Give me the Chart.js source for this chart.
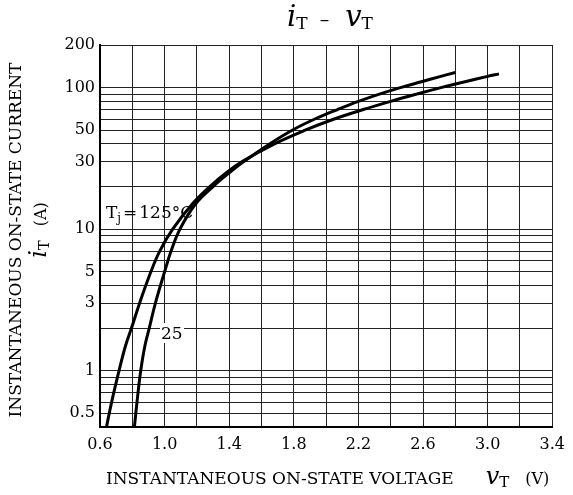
<!DOCTYPE html>
<html>
<head>
<meta charset="utf-8">
<script src="https://cdn.jsdelivr.net/npm/chart.js@4"></script>
<style>
  html, body { margin: 0; padding: 0; background: #fff; }
  canvas { display: block; }
</style>
</head>
<body>
<canvas id="chart" width="573" height="495"></canvas>
<script>
// Curve data (V, A)
const v125 = [0.64, 0.672, 0.718, 0.758, 0.795, 0.845, 0.915, 0.97, 1.05, 1.17, 1.28, 1.38, 1.48, 1.68, 1.87, 2.05, 2.23, 2.40, 2.56, 2.71, 2.86, 3.00, 3.07];
const i125 = [0.4, 0.6, 1.0, 1.5, 2.0, 3.0, 5.0, 7.0, 10, 15, 20, 25, 30, 40, 50, 60, 70, 80, 90, 100, 110, 120, 125];

const v25 = [0.813, 0.829, 0.852, 0.878, 0.905, 0.943, 1.0, 1.04, 1.095, 1.19, 1.30, 1.40, 1.49, 1.65, 1.79, 1.93, 2.07, 2.20, 2.33, 2.46, 2.59, 2.71, 2.80];
const i25 = [0.4, 0.6, 1.0, 1.5, 2.0, 3.0, 5.0, 7.0, 10, 15, 20, 25, 30, 40, 50, 60, 70, 80, 90, 100, 110, 120, 128];

// Axis labels
const xLabels = [0.6, 1.0, 1.4, 1.8, 2.2, 2.6, 3.0, 3.4];
const yLabels = [0.5, 1, 3, 5, 10, 30, 50, 100, 200];

// grid positions
const xGrid = [];
for (let k = 0; k <= 14; k++) xGrid.push(Number((0.6 + k * 0.2).toFixed(1)));
const yGrid = [];
for (let e = -1; e <= 2; e++) {
    for (let m = 1; m <= 9; m++) {
        const v = Number((m * Math.pow(10, e)).toPrecision(3));
        if (v >= 0.4 && v <= 200) yGrid.push(v);
    }
}

const serif = '"DejaVu Serif", "Liberation Serif", serif';

function toPoints(xs, ys) {
    return xs.map((x, i) => ({ x: x, y: ys[i] }));
}

// draws a run of text pieces (for subscripts / italics)
function drawRich(ctx, parts, x, y, align) {
    let total = 0;
    parts.forEach(p => { ctx.font = p.font; total += ctx.measureText(p.t).width + (p.gap || 0); });
    let cx = align === 'center' ? x - total / 2 : x;
    parts.forEach(p => {
        ctx.font = p.font;
        ctx.fillText(p.t, cx, y + (p.dy || 0));
        cx += ctx.measureText(p.t).width + (p.gap || 0);
    });
}

const textPlugin = {
    id: 'texts',
    beforeDatasetsDraw(chart) {
        const ctx = chart.ctx;
        // white patch behind the "25" label
        ctx.save();
        ctx.fillStyle = '#fff';
        ctx.fillRect(160, 323, 24, 20);
        ctx.restore();
    },
    afterDraw(chart) {
        const ctx = chart.ctx;
        ctx.save();
        ctx.fillStyle = '#000';
        ctx.textBaseline = 'alphabetic';

        // title
        drawRich(ctx, [
            { t: 'i', font: 'italic 29px ' + serif },
            { t: 'T', font: '17px ' + serif, dy: 3, gap: 12 },
            { t: '\u2013', font: '19px ' + serif, gap: 16 },
            { t: 'v', font: 'italic 29px ' + serif },
            { t: 'T', font: '17px ' + serif, dy: 3 }
        ], 330, 26, 'center');

        // x axis title
        drawRich(ctx, [
            { t: 'INSTANTANEOUS ON-STATE VOLTAGE', font: '17px ' + serif, gap: 32 },
            { t: 'v', font: 'italic 24px ' + serif },
            { t: 'T', font: '15px ' + serif, dy: 3, gap: 16 },
            { t: '(V)', font: '16px ' + serif }
        ], 106, 484, 'left');

        // y axis title (rotated)
        ctx.save();
        ctx.translate(21, 240);
        ctx.rotate(-Math.PI / 2);
        drawRich(ctx, [
            { t: 'INSTANTANEOUS ON-STATE CURRENT', font: '17px ' + serif }
        ], 0, 0, 'center');
        ctx.restore();
        ctx.save();
        ctx.translate(46, 230);
        ctx.rotate(-Math.PI / 2);
        drawRich(ctx, [
            { t: 'i', font: 'italic 24px ' + serif },
            { t: 'T', font: '15px ' + serif, dy: 3, gap: 14 },
            { t: '(A)', font: '16px ' + serif }
        ], 0, 0, 'center');
        ctx.restore();

        // curve labels
        drawRich(ctx, [
            { t: 'T', font: '17px ' + serif },
            { t: 'j', font: '12px ' + serif, dy: 4, gap: 2 },
            { t: '=', font: '17px ' + serif, gap: 2 },
            { t: '125\u00b0C', font: '17px ' + serif }
        ], 106, 218, 'left');
        ctx.font = '17px ' + serif;
        ctx.fillText('25', 161, 339);
        ctx.restore();
    }
};

new Chart(document.getElementById('chart'), {
    type: 'scatter',
    data: {
        datasets: [
            {
                label: 'Tj=125°C',
                data: toPoints(v125, i125),
                showLine: true,
                borderColor: '#000',
                borderWidth: 3,
                pointRadius: 0,
                tension: 0.4
            },
            {
                label: '25',
                data: toPoints(v25, i25),
                showLine: true,
                borderColor: '#000',
                borderWidth: 3,
                pointRadius: 0,
                tension: 0.4
            }
        ]
    },
    options: {
        responsive: false,
        animation: false,
        devicePixelRatio: 1,
        layout: { padding: { top: 45, right: 12, left: 0, bottom: 0 } },
        plugins: {
            legend: { display: false },
            tooltip: { enabled: false }
        },
        scales: {
            x: {
                type: 'linear',
                min: 0.6,
                max: 3.4,
                afterBuildTicks: scale => { scale.ticks = xGrid.map(v => ({ value: v })); },
                afterFit: scale => { scale.height = 68; },
                grid: { color: '#222', lineWidth: 1, drawTicks: false },
                border: { color: '#000', width: 2 },
                ticks: {
                    padding: 8,
                    color: '#000',
                    font: { family: serif, size: 16 },
                    maxRotation: 0,
                    autoSkip: false,
                    callback: v => xLabels.some(l => Math.abs(l - v) < 1e-6) ? v.toFixed(1) : ''
                }
            },
            y: {
                type: 'logarithmic',
                min: 0.4,
                max: 200,
                afterBuildTicks: scale => { scale.ticks = yGrid.map(v => ({ value: v })); },
                afterFit: scale => { scale.width = 100; },
                grid: { color: '#222', lineWidth: 1, drawTicks: false },
                border: { color: '#000', width: 2 },
                ticks: {
                    padding: 5,
                    color: '#000',
                    font: { family: serif, size: 16 },
                    autoSkip: false,
                    callback: v => yLabels.includes(v) ? String(v) : ''
                }
            }
        }
    },
    plugins: [textPlugin]
});
</script>
</body>
</html>
